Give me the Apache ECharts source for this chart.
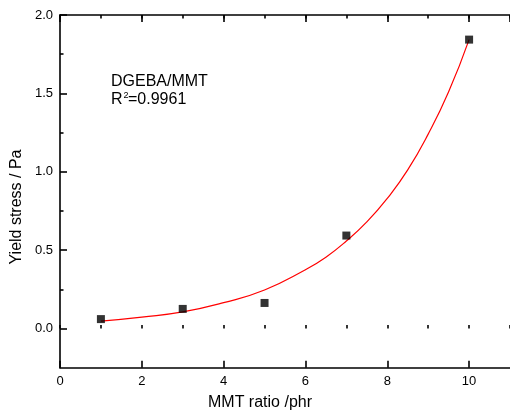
<!DOCTYPE html>
<html>
<head>
<meta charset="utf-8">
<script src="https://cdn.jsdelivr.net/npm/echarts@6/dist/echarts.min.js"></script>
<style>html,body{margin:0;padding:0;background:#fff;}#c{width:510px;height:414px;}</style>
</head>
<body>
<div id="c"></div>
<script>
// Measured data (MMT ratio in phr, yield stress in Pa)
const mmtRatio = [1, 3, 5, 7, 10];
const yieldStress = [0.060, 0.125, 0.163, 0.593, 1.843];
// Fit curve
const fitX = [1, 2, 3, 4, 5, 6, 6.5, 7, 7.5, 8, 8.5, 9, 9.5, 10];
const fitY = [0.047, 0.073, 0.106, 0.165, 0.246, 0.375, 0.455, 0.558, 0.680, 0.830, 1.012, 1.240, 1.510, 1.843];
// Axis ranges / ticks
const xRange = [0, 11];
const xMajor = 2, xMinor = 1;
const yRange = [-0.25, 2.0];
const yLabelRange = [0, 2.0];
const yMajor = 0.5, yMinor = 0.25;
const xTitle = 'MMT ratio /phr';
const yTitle = 'Yield stress / Pa';
const sampleLabel = 'DGEBA/MMT';
const r2Value = '=0.9961';

const FONT = "'Liberation Sans', Arial, sans-serif";
const chart = echarts.init(document.getElementById('c'), null, {renderer: 'canvas'});

const gLeft = 60, gTop = 15, gWidth = 452, gHeight = 352.7;
const labelHeight = gHeight * (yLabelRange[1] - yLabelRange[0]) / (yRange[1] - yRange[0]);
const lineStyle = {color: '#000', width: 1.6};

function xAx(opts) {
  return Object.assign({
    type: 'value', gridIndex: 0, min: xRange[0], max: xRange[1],
    splitLine: {show: false}, axisLabel: {show: false}, axisTick: {show: false},
    axisLine: {show: false}
  }, opts);
}

chart.setOption({
  animation: false,
  backgroundColor: '#fff',
  grid: [
    {left: gLeft, top: gTop, width: gWidth, height: gHeight, containLabel: false},
    {left: gLeft, top: gTop, width: gWidth, height: labelHeight, containLabel: false}
  ],
  xAxis: [
    xAx({position: 'bottom', interval: xMajor, axisLine: {show: true, onZero: false, lineStyle},
      axisTick: {show: true, inside: true, length: 7, lineStyle},
      axisLabel: {show: true, margin: 7, color: '#000', fontSize: 13, fontFamily: FONT,
        showMaxLabel: false, formatter: v => (v <= 10 ? String(v) : '')}}),
    xAx({position: 'bottom', interval: xMinor,
      axisTick: {show: true, inside: true, length: 3.5, lineStyle}}),
    xAx({position: 'top', interval: xMajor, axisLine: {show: true, onZero: false, lineStyle},
      axisTick: {show: true, inside: true, length: 7, lineStyle}}),
    xAx({position: 'top', interval: xMinor,
      axisTick: {show: true, inside: true, length: 3.5, lineStyle}}),
    xAx({gridIndex: 1, show: false})
  ],
  yAxis: [
    {type: 'value', gridIndex: 0, min: yRange[0], max: yRange[1], position: 'left',
      splitLine: {show: false}, axisLabel: {show: false}, axisTick: {show: false},
      axisLine: {show: true, onZero: false, lineStyle}},
    {type: 'value', gridIndex: 1, min: yLabelRange[0], max: yLabelRange[1], interval: yMajor,
      position: 'left', splitLine: {show: false},
      axisLine: {show: false},
      axisTick: {show: true, inside: true, length: 7, lineStyle},
      minorTick: {show: true, splitNumber: Math.round(yMajor / yMinor), length: 3.5, lineStyle},
      axisLabel: {show: true, margin: 7, color: '#000', fontSize: 13, fontFamily: FONT,
        formatter: v => v.toFixed(1)}}
  ],
  series: [
    {type: 'line', xAxisIndex: 0, yAxisIndex: 0, smooth: 0.5,
      showSymbol: false, symbol: 'none',
      data: fitX.map((x, i) => [x, fitY[i]]),
      lineStyle: {color: '#ff0000', width: 1.2}, z: 2},
    {type: 'scatter', xAxisIndex: 0, yAxisIndex: 0, symbol: 'rect', symbolSize: 8,
      itemStyle: {color: '#000'},
      data: mmtRatio.map((x, i) => [x, yieldStress[i]]), z: 3}
  ],
  graphic: [
    {type: 'text', x: 260, y: 403, style: {text: xTitle, font: '16px ' + FONT, fill: '#000',
      textAlign: 'center', textVerticalAlign: 'middle', verticalAlign: 'middle'}},
    {type: 'text', x: 17, y: 207, rotation: Math.PI / 2, style: {text: yTitle, font: '16px ' + FONT, fill: '#000',
      textAlign: 'center', textVerticalAlign: 'middle', verticalAlign: 'middle'}},
    {type: 'text', x: 111, y: 81.5, style: {text: sampleLabel, font: '16px ' + FONT, fill: '#000',
      textAlign: 'left', textVerticalAlign: 'middle', verticalAlign: 'middle'}},
    {type: 'text', x: 111, y: 100, style: {text: 'R', font: '16px ' + FONT, fill: '#000',
      textAlign: 'left', textVerticalAlign: 'middle', verticalAlign: 'middle'}},
    {type: 'text', x: 123.5, y: 96, style: {text: '2', font: '9px ' + FONT, fill: '#000',
      textAlign: 'left', textVerticalAlign: 'middle', verticalAlign: 'middle'}},
    {type: 'text', x: 128, y: 100, style: {text: r2Value, font: '16px ' + FONT, fill: '#000',
      textAlign: 'left', textVerticalAlign: 'middle', verticalAlign: 'middle'}}
  ]
});
</script>
</body>
</html>
